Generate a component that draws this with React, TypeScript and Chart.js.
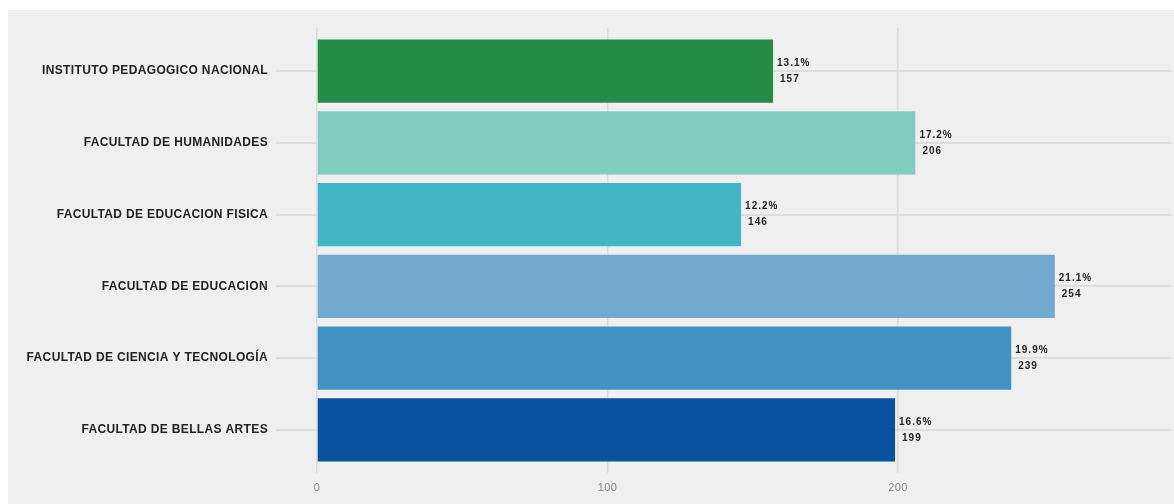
import React, { useEffect, useRef } from "react";
import { Chart, registerables } from "chart.js";

Chart.register(...registerables);

const categories = [
  "INSTITUTO PEDAGOGICO NACIONAL",
  "FACULTAD DE HUMANIDADES",
  "FACULTAD DE EDUCACION FISICA",
  "FACULTAD DE EDUCACION",
  "FACULTAD DE CIENCIA Y TECNOLOGÍA",
  "FACULTAD DE BELLAS ARTES",
];
const values = [157, 206, 146, 254, 239, 199];
const percents = ["13.1%", "17.2%", "12.2%", "21.1%", "19.9%", "16.6%"];
const barColors = ["#238b45", "#80cdbd", "#42b6c5", "#74a9cf", "#4292c6", "#08519c"];
const xTicks = [0, 100, 200];

const spacingPlugin = {
  id: "spacing",
  beforeDraw(chart: any) {
    try { (chart.ctx as any).letterSpacing = "0.35px"; } catch (e) {}
  },
};

const labelPlugin = {
  id: "barLabels",
  afterDatasetsDraw(chart: any) {
    const ctx = chart.ctx;
    const meta = chart.getDatasetMeta(0);
    ctx.save();
    ctx.fillStyle = "#222";
    ctx.font = "bold 10px 'Liberation Sans', Arial, sans-serif";
    try { (ctx as any).letterSpacing = "1px"; } catch (e) {}
    ctx.textBaseline = "middle";
    ctx.textAlign = "left";
    meta.data.forEach((el: any, i: number) => {
      ctx.fillText(percents[i], el.x + 4, el.y - 8);
      ctx.fillText(String(values[i]), el.x + 7, el.y + 8);
    });
    ctx.restore();
  },
};

export default function App() {
  const ref = useRef<HTMLCanvasElement>(null);
  useEffect(() => {
    const chart = new Chart(ref.current!, {
      type: "bar",
      data: {
        datasets: [
          {
            data: values.map((v, i) => ({ x: v, y: i })),
            backgroundColor: barColors,
            borderWidth: 0,
            barPercentage: 0.88,
            categoryPercentage: 1,
          },
        ],
      },
      options: {
        indexAxis: "y",
        animation: false,
        responsive: false,
        layout: { padding: { top: 18, right: 3, left: 0, bottom: 0 } },
        plugins: { legend: { display: false }, tooltip: { enabled: false } },
        scales: {
          x: {
            type: "linear",
            min: 0,
            max: 294,
            afterBuildTicks: (s: any) => {
              s.ticks = xTicks.map((v) => ({ value: v }));
            },
            grid: { color: "#dcdcdc", lineWidth: 1.5, drawTicks: false },
            border: { display: false },
            ticks: {
              color: "#888",
              padding: 8,
              font: { size: 11, family: "'Liberation Sans', Arial, sans-serif" },
            },
            afterFit: (s: any) => {
              s.height = 31;
            },
          },
          y: {
            type: "linear",
            min: -0.6,
            max: 5.6,
            reverse: true,
            offset: false,
            afterBuildTicks: (s: any) => {
              s.ticks = categories.map((_, i) => ({ value: i }));
            },
            grid: { color: "#dddddd", lineWidth: 2, tickLength: 41, offset: false },
            border: { display: false },
            ticks: {
              color: "#222",
              padding: 8,
              callback: (v: any) => categories[v as number] ?? "",
              font: { size: 12, weight: "bold", family: "'Liberation Sans', Arial, sans-serif" },
            },
            afterFit: (s: any) => {
              s.width = 309;
            },
          },
        },
      },
      plugins: [spacingPlugin, labelPlugin],
    });
    return () => chart.destroy();
  }, []);
  return (
    <div
      style={{
        position: "fixed",
        left: 8,
        top: 10,
        width: 1166,
        height: 494,
        background: "#efefef",
      }}
    >
      <canvas ref={ref} width={1166} height={494} style={{ display: "block" }} />
    </div>
  );
}
